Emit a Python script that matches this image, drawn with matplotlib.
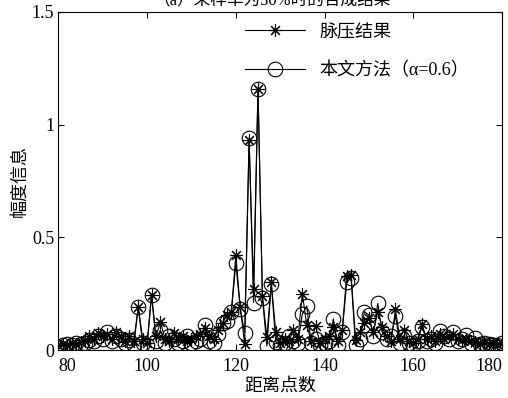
import numpy as np
import matplotlib.pyplot as plt

plt.rcParams['font.family'] = ['Liberation Serif', 'Noto Sans CJK SC']
plt.rcParams['axes.unicode_minus'] = False

# range cells
dist = np.arange(80, 181)

# pulse compression output
pulse = [0.020, 0.025, 0.020, 0.030, 0.025, 0.035, 0.040, 0.060, 0.050, 0.075,
         0.060, 0.070, 0.050, 0.080, 0.060, 0.040, 0.060, 0.040, 0.190, 0.050,
         0.030, 0.245, 0.060, 0.125, 0.050, 0.040, 0.075, 0.050, 0.060, 0.040,
         0.050, 0.060, 0.070, 0.096, 0.060, 0.050, 0.090, 0.120, 0.155, 0.170,
         0.420, 0.190, 0.027, 0.930, 0.270, 1.160, 0.240, 0.056, 0.300, 0.080,
         0.030, 0.050, 0.040, 0.090, 0.050, 0.250, 0.110, 0.040, 0.107, 0.030,
         0.050, 0.060, 0.100, 0.040, 0.090, 0.330, 0.333, 0.044, 0.080, 0.120,
         0.140, 0.080, 0.170, 0.100, 0.060, 0.040, 0.180, 0.050, 0.090, 0.040,
         0.030, 0.050, 0.115, 0.050, 0.060, 0.040, 0.070, 0.050, 0.060, 0.070,
         0.050, 0.045, 0.050, 0.040, 0.035, 0.030, 0.035, 0.025, 0.030, 0.025,
         0.030]

# proposed method, alpha = 0.6
method = [0.015, 0.020, 0.025, 0.020, 0.030, 0.025, 0.030, 0.045, 0.040, 0.060,
          0.050, 0.080, 0.040, 0.060, 0.050, 0.030, 0.045, 0.020, 0.190, 0.030,
          0.020, 0.245, 0.040, 0.090, 0.030, 0.060, 0.050, 0.030, 0.040, 0.060,
          0.030, 0.040, 0.050, 0.110, 0.040, 0.030, 0.070, 0.118, 0.130, 0.170,
          0.385, 0.180, 0.077, 0.940, 0.210, 1.160, 0.230, 0.018, 0.295, 0.037,
          0.020, 0.030, 0.060, 0.040, 0.030, 0.160, 0.195, 0.030, 0.050, 0.020,
          0.030, 0.040, 0.138, 0.020, 0.080, 0.300, 0.320, 0.020, 0.050, 0.170,
          0.155, 0.060, 0.207, 0.080, 0.050, 0.060, 0.150, 0.030, 0.060, 0.030,
          0.020, 0.040, 0.104, 0.040, 0.050, 0.030, 0.084, 0.060, 0.050, 0.081,
          0.040, 0.050, 0.067, 0.030, 0.052, 0.025, 0.030, 0.027, 0.020, 0.020,
          0.032]

fig = plt.figure(figsize=(5.08, 3.98), dpi=100)
ax = fig.add_axes([0.115, 0.1206, 0.873, 0.8494])

ax.plot(dist, pulse, color='k', lw=0.8, marker=(8, 2, 0), ms=9,
        mec='k', mew=0.8, label='脉压结果')
ax.plot(dist, method, color='k', lw=0.8, marker='o', ms=10.5,
        mfc='none', mec='k', mew=0.8, label='本文方法（α=0.6）')

ax.set_xlim(80, 180)
ax.set_ylim(0, 1.5)
ax.set_xticks([80, 100, 120, 140, 160, 180])
ax.set_yticks([0, 0.5, 1, 1.5])
ax.set_yticklabels(['0', '0.5', '1', '1.5'])
ax.tick_params(direction='in', length=4, width=0.8, top=True, right=True,
               labelsize=13)
ax.tick_params(axis='x', pad=6)
ax.tick_params(axis='y', pad=3)
# keep the end labels inside the axes span
xt = ax.get_xticklabels()
xt[0].set_ha('left')
xt[-1].set_ha('right')
for sp in ax.spines.values():
    sp.set_linewidth(0.8)

ax.set_xlabel('距离点数', fontsize=13, labelpad=2)
ax.set_ylabel('幅度信息', fontsize=13, labelpad=2)

ax.legend(loc='upper left', bbox_to_anchor=(0.385, 1.013), frameon=False,
          fontsize=13, handlelength=3.3, labelspacing=1.15, handletextpad=0.8)

# figure title sits partly above the canvas
fig.text(0.535, 0.998, '（a）采样率为30%时的合成结果', ha='center', va='center',
         fontsize=12)

fig.savefig('out.png', dpi=100)
